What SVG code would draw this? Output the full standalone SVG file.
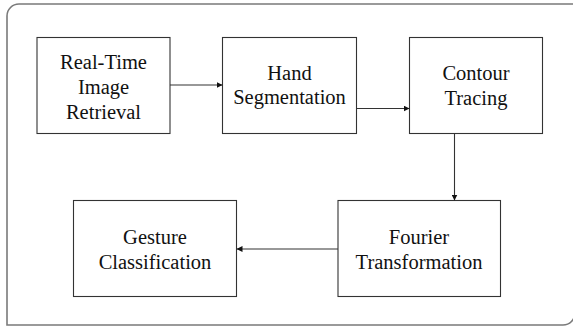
<svg xmlns="http://www.w3.org/2000/svg" width="573" height="327" viewBox="0 0 573 327">
  <defs>
    <marker id="arrow" viewBox="0 0 10 10" refX="10" refY="5" markerWidth="6" markerHeight="6" markerUnits="userSpaceOnUse" orient="auto">
      <path d="M0,0 L10,5 L0,10 Z" fill="#111"/>
    </marker>
    <style>
      .frame { fill: #fff; stroke: #7a7a7a; stroke-width: 1.6; }
      .box { fill: #fff; stroke: #333; stroke-width: 1.1; }
      .label { font-family: 'Liberation Serif', 'DejaVu Serif', serif; font-size: 20.5px; fill: #111; text-anchor: middle; }
      .link { fill: none; stroke: #333; stroke-width: 1.1; marker-end: url(#arrow); }
    </style>
  </defs>

  <rect width="573" height="327" fill="#fff"/>

  <!-- outer frame: rounded top-left and bottom-right corners -->
  <path class="frame" d="M7,325 L7,16 A12,12 0 0 1 19,4 L575,4 L575,313 A12,12 0 0 1 563,325 Z"/>

  <g id="realtime-image-retrieval">
    <rect class="box" x="37" y="37.5" width="133" height="96"/>
    <text class="label" x="103.5" y="68.5" font-family="Liberation Serif">Real-Time</text>
    <text class="label" x="103.5" y="93.5" font-family="Liberation Serif">Image</text>
    <text class="label" x="103.5" y="118.5" font-family="Liberation Serif">Retrieval</text>
  </g>

  <g id="hand-segmentation">
    <rect class="box" x="222.5" y="37.5" width="134" height="96"/>
    <text class="label" x="289.5" y="79.5" font-family="Liberation Serif">Hand</text>
    <text class="label" x="289.5" y="104" font-family="Liberation Serif">Segmentation</text>
  </g>

  <g id="contour-tracing">
    <rect class="box" x="409.5" y="37.5" width="133" height="96"/>
    <text class="label" x="476" y="80" font-family="Liberation Serif">Contour</text>
    <text class="label" x="476" y="104.5" font-family="Liberation Serif">Tracing</text>
  </g>

  <g id="fourier-transformation">
    <rect class="box" x="338" y="200.5" width="162.5" height="96"/>
    <text class="label" x="419" y="243.5" font-family="Liberation Serif">Fourier</text>
    <text class="label" x="419" y="269" font-family="Liberation Serif">Transformation</text>
  </g>

  <g id="gesture-classification">
    <rect class="box" x="73.5" y="200.5" width="163" height="96"/>
    <text class="label" x="155" y="243.5" font-family="Liberation Serif">Gesture</text>
    <text class="label" x="155" y="269" font-family="Liberation Serif">Classification</text>
  </g>

  <g id="connectors">
    <line class="link" x1="170" y1="85" x2="222.5" y2="85"/>
    <line class="link" x1="356.5" y1="108.5" x2="409.5" y2="108.5"/>
    <line class="link" x1="454.5" y1="133.5" x2="454.5" y2="200.5"/>
    <line class="link" x1="338" y1="249" x2="236.5" y2="249"/>
  </g>
</svg>
